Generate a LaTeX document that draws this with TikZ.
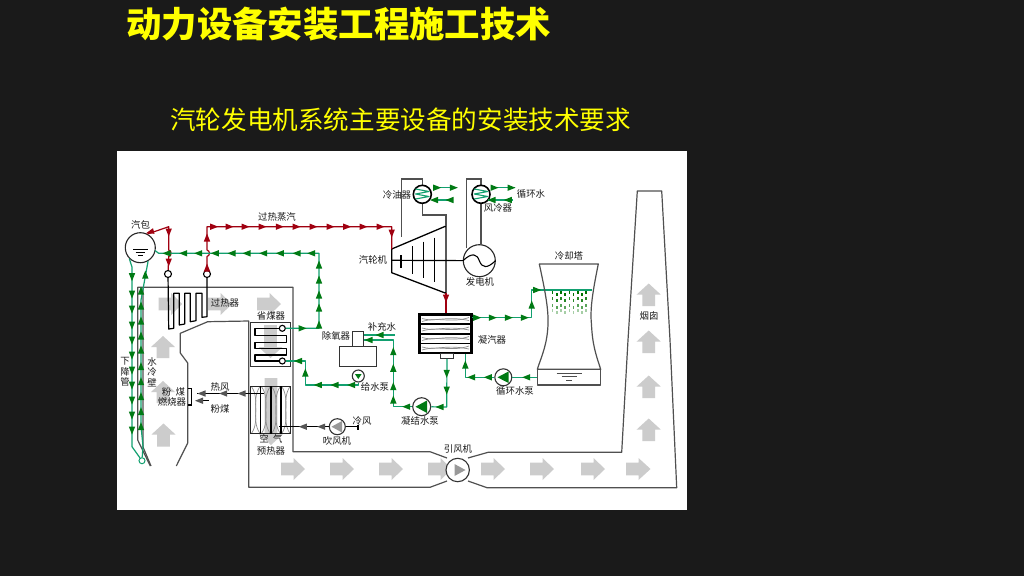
\documentclass[tikz,border=0pt]{standalone}
\usepackage{fontspec}
\newfontfamily\cjk{Noto Sans CJK SC}
\definecolor{bgdark}{HTML}{1A1A1A}
\definecolor{gl}{HTML}{12A070}
\definecolor{gh}{HTML}{007A14}
\definecolor{rl}{HTML}{A00010}
\definecolor{kh}{HTML}{555555}
\definecolor{pipe}{HTML}{505050}
\definecolor{grayarrow}{HTML}{CCCCCC}
\definecolor{title}{HTML}{FFFF00}
\tikzset{
  gline/.style={draw=gl,line width=1.2pt,line join=round},
  rline/.style={draw=rl,line width=1.2pt,line join=round},
  kline/.style={draw=black,line width=1.1pt},
  wall/.style={draw=pipe,line width=1.2pt,line join=round},
  pipeline/.style={draw=pipe,line width=1.1pt},
  steel/.style={draw=black,line width=1.2pt,line join=round},
  valve/.style={circle,draw=black,line width=1.1pt,fill=white,minimum size=7pt,inner sep=0pt},
  pump/.style={circle,draw=black!80,line width=1.1pt,fill=white,inner sep=0pt},
  cooler/.style={circle,draw=black,line width=1.6pt,fill=white,minimum size=18pt,inner sep=0pt},
  lbl/.style={font=\cjk\fontsize{9.4}{10.5}\selectfont,text=black!90,inner sep=0pt,align=center},
  gshape/.style={fill=grayarrow,draw=none},
  wave/.style={draw=black!45,line width=.7pt}
}
\newcommand{\arrR}[3]{\fill[gshape] (#1,#3-6.3) -- (#1+12.5,#3-6.3) -- (#1+12.5,#3-11) -- (#2,#3) -- (#1+12.5,#3+11) -- (#1+12.5,#3+6.3) -- (#1,#3+6.3) -- cycle;}
\newcommand{\arrU}[3]{\fill[gshape] (#1-6.3,#3) -- (#1-6.3,#2+11) -- (#1-12,#2+11) -- (#1,#2) -- (#1+12,#2+11) -- (#1+6.3,#2+11) -- (#1+6.3,#3) -- cycle;}
\newcommand{\arrD}[3]{\fill[gshape] (#1-6.3,#2) -- (#1-6.3,#3-11) -- (#1-12,#3-11) -- (#1,#3) -- (#1+12,#3-11) -- (#1+6.3,#3-11) -- (#1+6.3,#2) -- cycle;}
\newcommand{\mkL}[3]{\fill[#1] (#2-4.5,#3) -- (#2+3.5,#3-3.2) -- (#2+3.5,#3+3.2) -- cycle;}
\newcommand{\mkR}[3]{\fill[#1] (#2+4.5,#3) -- (#2-3.5,#3-3.2) -- (#2-3.5,#3+3.2) -- cycle;}
\newcommand{\mkU}[3]{\fill[#1] (#2,#3-4.5) -- (#2-3.2,#3+3.5) -- (#2+3.2,#3+3.5) -- cycle;}
\newcommand{\mkD}[3]{\fill[#1] (#2,#3+4.5) -- (#2-3.2,#3-3.5) -- (#2+3.2,#3-3.5) -- cycle;}
\newcommand{\cellwave}[2]{%
  \draw[wave] (#1+1,387) .. controls (#2,400) and (#1,420) .. (#2-1,433);
  \draw[wave] (#2-1,387) .. controls (#1,400) and (#2,420) .. (#1+1,433);}
\newcommand{\barwave}[1]{%
  \draw[wave] (422,#1-1) .. controls (435,#1+3) and (445,#1-4) .. (469,#1+1);
  \draw[wave] (422,#1+2) .. controls (438,#1-3) and (452,#1+4) .. (469,#1-2);}
\begin{document}
\begin{tikzpicture}[x=1pt,y=-1pt]
\useasboundingbox (0,0) rectangle (1024,576);
\fill[bgdark] (0,0) rectangle (1024,576);
\fill[white] (117,151) rectangle (687,510);
\node[font=\cjk\bfseries\fontsize{35.4}{38}\selectfont,text=title,inner sep=0pt,anchor=west] (heading) at (126,24) {动力设备安装工程施工技术};
\node[font=\cjk\fontsize{25.6}{28}\selectfont,text=title,inner sep=0pt,anchor=west] (subheading) at (170,120) {汽轮发电机系统主要设备的安装技术要求};
% grey gas-flow arrows
\arrR{158.7}{182}{304}\arrR{208}{232}{304}\arrR{257}{281}{304}
\arrU{163}{336}{358}\arrU{163}{381}{403}\arrU{163.5}{423.5}{446.5}
\arrD{270.5}{325}{358}\arrD{271}{378}{445}
\arrR{281}{305}{469}\arrR{330}{354}{469}\arrR{379}{403}{469}\arrR{428}{452}{469}
\arrR{481}{505}{469}\arrR{530}{554}{469}\arrR{581}{605}{469}\arrR{626}{650.5}{469}
\arrU{648.7}{283.5}{306}\arrU{648.7}{330.5}{353}\arrU{648.7}{375.5}{398}\arrU{648.7}{418.5}{441}
% boiler and flue walls
\draw[wall] (150.3,466) -- (137.7,440) -- (137.7,287.3) -- (293,287.3) -- (293,451.7) -- (430,451.7) -- (447,458) (468,458) -- (488,452.3) -- (621.7,452.3) -- (628,340) -- (637.3,191) -- (661.7,191) -- (670,340) -- (676.7,487.7) -- (487,487.7) -- (468,481) (447,481) -- (430,487.3) -- (248.7,487.3) -- (248.7,321) -- (207.7,321.7) -- (180.3,333.3) -- (180.3,353) -- (187.7,363) -- (187.7,443) -- (176.3,466);
\draw[wall] (151,466) -- (143,447) -- (143,287.3);
% economizer
\node[draw=black!80,line width=1.3pt,minimum width=40pt,minimum height=44.4pt,inner sep=0pt] (economizer) at (270.7,344.5) {};
\node[valve,minimum size=6pt] (ecoin) at (282.3,361) {};
\node[valve,minimum size=6pt] (ecoout) at (282.3,328.3) {};
\draw[steel] (ecoout) -- (255,328.3) -- (255,335.7) -- (286.7,335.7) -- (286.7,342.3) -- (255,342.3) -- (255,348.3) -- (286.7,348.3) -- (286.7,355) -- (255,355) -- (255,361) -- (ecoin);
% air preheater
\cellwave{250.7}{260.7}\cellwave{260.7}{271}\cellwave{271}{281}\cellwave{281}{290.7}
\node[draw=black!85,line width=1.2pt,minimum width=40pt,minimum height=47.3pt,inner sep=0pt] (preheater) at (270.7,410) {};
\foreach \x in {260.7,271,281}{\draw[black,line width=1.4pt] (\x,386.3) -- (\x,433.5);}
% superheater
\node[valve] (shin) at (168,274) {};
\node[valve] (shout) at (207,274) {};
\draw[steel] (shin) -- (168.7,329) -- (173.7,328.3) -- (173.7,293.3) -- (179.3,293.3) -- (179.3,325) -- (184.7,324) -- (184.7,293.3) -- (190.3,293.3) -- (190.3,321.7) -- (196,320.7) -- (196,293.3) -- (202,293.3) -- (202,317.3) -- (207,316.7) -- (shout);
% steam drum
\node[circle,draw=black!85,line width=1.1pt,fill=white,minimum size=30pt,inner sep=0pt] (drum) at (140.3,247.7) {};
\draw[black,line width=1pt] (133,249) -- (147.5,249) (135.5,252) -- (145,252) (138,255) -- (142.5,255);
% burner
\coordinate (bt) at (187.7,388.3);\coordinate (bb) at (187.7,405);
\draw[kline] (bt) -- (191.7,388.3) -- (191.7,405) -- (bb);
\coordinate (hotsrc) at (263.7,393.5);\coordinate (hotdst) at (197,393.5);
\draw[kline] (hotsrc) -- (hotdst);
\foreach \x in {202,223.7,242}{\mkL{kh}{\x}{393.5}}
\coordinate (coalsrc) at (208.7,400.7);\coordinate (coaldst) at (197,400.7);
\draw[kline] (coalsrc) -- (coaldst);
\mkL{kh}{199.5}{400.7}
% blower
\node[pump,minimum size=16pt] (blower) at (337.3,426.7) {};
\fill[black!40] (331.5,426.7) -- (342,421) -- (342,432.5) -- cycle;
\coordinate (airout) at (278.7,426.7);
\draw[kline] (blower) -- (airout);
\foreach \x in {303.3,321.7}{\mkL{kh}{\x}{426.7}}
\coordinate (coldin) at (358,426.7);
\draw[kline] (coldin) -- (blower);
\draw[kline] (358,424.5) -- (358,429.5);
% induced-draft fan
\node[pump,minimum size=23.4pt] (idfan) at (457.7,470) {};
\fill[black!40] (465.5,470) -- (454.5,464) -- (454.5,476) -- cycle;
% turbine
\coordinate (tA) at (391.7,249);\coordinate (tB) at (446,226);\coordinate (tC) at (446,293.3);\coordinate (tD) at (391.7,272.7);
\draw[black,line width=1.3pt,line join=round] (tA) -- (tB) -- (tC) -- (tD) -- cycle;
\draw[black,line width=1.1pt] (401,255) -- (401,268) (412.3,246) -- (412.3,274) (423.7,241.7) -- (423.7,278.3) (434.7,237.7) -- (434.7,282.3);
\node[circle,draw=black!85,line width=1.1pt,fill=white,minimum size=32pt,inner sep=0pt] (generator) at (479.3,260.7) {};
\draw[black,line width=1.2pt] (391.7,260.3) -- (generator);
\draw[black,line width=1.1pt] (463,260.7) .. controls (472,252) and (477,254) .. (479.3,260.7) .. controls (482,268) and (487,269) .. (495.5,260.7);
% coolers and their pipes
\coordinate (p1) at (401.7,236.7);\coordinate (p2) at (401.7,179);\coordinate (p3) at (422.3,179);\coordinate (p4) at (422.3,215);\coordinate (p5) at (446,215);
\draw[pipeline] (p1) -- (p2) -- (p3) -- (422.3,186);
\draw[pipeline] (p4) -- (p5) -- (tB);
\draw[pipeline] (422.3,203) -- (p4);
\coordinate (q1) at (466.7,248);\coordinate (q2) at (466.7,179);\coordinate (q3) at (481,179);
\draw[pipeline] (q1) -- (q2) -- (q3) -- (481,186);
\draw[pipeline] (481,203) -- (481,245);
\node[cooler] (oilcool) at (422.3,194.3) {};
\node[cooler] (aircool) at (481,194.3) {};
\draw[gl,line width=1.1pt,line join=round] (415.5,189) -- (429,191.5) -- (415.5,194) -- (429,196.5) -- (415.5,199)
  (474.2,189) -- (487.7,191.5) -- (474.2,194) -- (487.7,196.5) -- (474.2,199);
\coordinate (o1) at (433,187.7);\coordinate (o2) at (457,187.7);\coordinate (o3) at (453,200);\coordinate (o4) at (431.7,200);
\draw[gline] (o1) -- (o2);
\draw[gline] (o3) -- (o4);
\foreach \x in {436.7,453.3}{\mkR{gh}{\x}{187.7}}
\foreach \x in {434.5,450}{\mkL{gh}{\x}{200}}
\coordinate (w1) at (491.7,187.7);\coordinate (w2) at (515,187.7);\coordinate (w3) at (513,200);\coordinate (w4) at (488,200);
\draw[gline] (w1) -- (w2);
\draw[gline] (w3) -- (w4);
\foreach \x in {494,511}{\mkR{gh}{\x}{187.7}}
\foreach \x in {492,508.3}{\mkL{gh}{\x}{200}}
% condenser
\barwave{319.5}\barwave{329}\barwave{338.5}\barwave{348}
\node[draw=black,line width=2.2pt,minimum width=52pt,minimum height=38.4pt,inner sep=0pt] (condenser) at (445.4,333.7) {};
\foreach \y in {324,333.7,343.3}{\draw[black,line width=1.6pt] (420,\y) -- (471,\y);}
\node[draw=black!80,line width=1.1pt,minimum width=12.6pt,minimum height=5pt,inner sep=0pt,fill=white] (hotwell) at (447,355.8) {};
% deaerator
\node[draw=black!80,line width=1.3pt,minimum width=37.4pt,minimum height=20pt,inner sep=0pt] (tank) at (358,356.7) {};
\node[draw=black!80,line width=1.3pt,minimum width=10.6pt,minimum height=15pt,inner sep=0pt] (dome) at (358,339.2) {};
\node[pump,minimum size=12pt] (feedpump) at (358.3,376) {};
\fill[gh] (358.3,379) -- (355,374) -- (361.6,374) -- cycle;
\node[pump,minimum size=18pt] (condpump) at (421.7,406.7) {};
\fill[gh] (415.5,406.7) -- (427,400.5) -- (427,413) -- cycle;
\node[pump,minimum size=17pt] (circpump) at (503.3,377.3) {};
\fill[gh] (497.5,377.3) -- (508.5,371.5) -- (508.5,383) -- cycle;
% red steam lines
\coordinate (r1) at (168.7,226.7);\coordinate (r2) at (168.7,250);\coordinate (r3) at (168.7,256.5);
\draw[rline] (drum.62) -- (r1) -- (r2) .. controls (172,251) and (172,255.5) .. (r3) -- (shin);
\fill[rl] (146,233.3) -- (153,228.2) -- (154.5,233.8) -- cycle;
\mkD{rl}{168.7}{232}\mkD{rl}{168.7}{262}
\coordinate (s1) at (207,226.7);\coordinate (s2) at (391.7,226.7);\coordinate (s3) at (207,250);\coordinate (s4) at (207,256.5);
\draw[rline] (shout) -- (s4) .. controls (210.3,255.5) and (210.3,251) .. (s3) -- (s1) -- (s2) -- (tA);
\mkU{rl}{207}{268}\mkU{rl}{207}{238}
\foreach \x in {213.7,229,245,262,279.3,296,313,330,346.7,363,380}{\mkR{rl}{\x}{226.7}}
\mkD{rl}{391.7}{233}
\coordinate (exh) at (446,293.3);
\draw[rline] (exh) -- (condenser.north -| exh);
\mkD{rl}{446}{298}
% green water lines
\coordinate (e1) at (319,328.3);\coordinate (e2) at (319,253.3);\coordinate (e3) at (158.7,253.3);\coordinate (e4) at (155,250.5);
\draw[gline] (ecoout) -- (e1) -- (e2) -- (e3) -- (e4);
\mkR{gh}{302}{328.3}
\foreach \y in {325,308,295,280,265}{\mkU{gh}{319}{\y}}
\foreach \x in {311.7,297,280.3,263.7,247,232,215.3,198.7,183.7,167}{\mkL{gh}{\x}{253.3}}
\coordinate (f1) at (358.3,385);\coordinate (f2) at (305.3,385);\coordinate (f3) at (305.3,361);
\draw[gline] (feedpump) -- (f1) -- (f2) -- (f3) -- (ecoin);
\foreach \x in {351.7,335,318.3}{\mkL{gh}{\x}{385}}
\mkU{gh}{305.3}{373}
\mkL{gh}{298.5}{361}
\coordinate (d1) at (132,267);\coordinate (d2) at (132,446.7);
\node[circle,draw=gl,line width=1pt,fill=white,minimum size=6pt,inner sep=0pt] (header) at (142,460.7) {};
\draw[gline] (drum.225) -- (d1) -- (d2) -- (header);
\foreach \y in {276.7,294,309,325,340,355,370,385,400,415,430}{\mkD{gh}{132}{\y}}
\coordinate (u1) at (143,446);\coordinate (u2) at (141,426);\coordinate (u3) at (141,300);
\draw[gline] (header) -- (u1) -- (u2) -- (u3) -- (drum.300);
\foreach \y in {291,306,321,336,350,366.7,381.7,396.7,411.7,426.7}{\mkU{gh}{141}{\y}}
\mkU{gh}{145.3}{275}
\coordinate (c1) at (446.7,407);
\draw[gline] (hotwell) -- (c1) -- (condpump);
\foreach \y in {373.3,390}{\mkD{gh}{446.7}{\y}}
\mkL{gh}{440}{407}
\coordinate (c2) at (393.3,406.7);\coordinate (c3) at (393.3,340);\coordinate (c4) at (dome.east |- c3);
\draw[gline] (condpump) -- (c2) -- (c3) -- (c4);
\mkL{gh}{406.7}{406.7}
\foreach \y in {400,386.7,368.3,351.7}{\mkU{gh}{393.3}{\y}}
\mkL{gh}{369}{340}
\coordinate (mk1) at (395,335);\coordinate (mk2) at (dome.east |- mk1);
\draw[gline] (mk1) -- (mk2);
\mkL{gh}{380}{335}
\coordinate (g1) at (537.3,377.3);\coordinate (g2) at (465.3,377.3);\coordinate (g3) at (465.3,353.6);
\draw[gline] (g1) -- (circpump);
\draw[gline] (circpump) -- (g2) -- (g3);
\foreach \x in {526.7,488.3,471.7}{\mkL{gh}{\x}{377.3}}
\mkU{gh}{465.3}{365}
\coordinate (t1) at (471.7,317.7);\coordinate (t2) at (531.7,317.7);\coordinate (t3) at (531.7,290);\coordinate (t4) at (591.7,290);
\draw[gline] (t1) -- (t2) -- (t3) -- (t4);
\foreach \x in {476.7,492.3,508.3,524.3}{\mkR{gh}{\x}{317.7}}
\mkU{gh}{531.7}{305}
\mkR{gh}{536.7}{290}
% cooling tower
\coordinate (tw1) at (539.3,264);\coordinate (tw2) at (598.3,264);\coordinate (tw3) at (600.7,369.3);\coordinate (tw4) at (537.3,369.3);
\draw[wall] (tw1) -- (tw2) .. controls (592,295) and (590,310) .. (591.5,325) .. controls (592.5,345) and (596,355) .. (tw3) -- (tw4) .. controls (542,355) and (547,345) .. (548,325) .. controls (548.5,310) and (546,295) .. (tw1) -- cycle;
\draw[wall] (tw4) -- (537.3,385) -- (600.7,385) -- (tw3);
\draw[black!70,line width=1pt] (556.7,373.3) -- (581.7,373.3) (561.7,376.7) -- (576.7,376.7) (566,380) -- (572.3,380);
\foreach \x/\s in {552.7/0,557/2,561/0,565/2,569.5/0,573.5/2,578/0,582/2,586/0}{
  \foreach \y/\o in {293/100,299/85,305.5/65,311/35}{\fill[green!45!black,opacity=\o/100] (\x-.6,\y+\s-1.8) rectangle (\x+.6,\y+\s+1.4);}}
% labels
\node[lbl] (l1) at (140.5,224.5) {汽包};
\node[lbl] (l2) at (277,217) {过热蒸汽};
\node[lbl] (l3) at (397,194.5) {冷油器};
\node[lbl] (l4) at (498,207.5) {风冷器};
\node[lbl] (l5) at (531,194) {循环水};
\node[lbl] (l6) at (373,260) {汽轮机};
\node[lbl] (l7) at (480,282) {发电机};
\node[lbl] (l8) at (569,256) {冷却塔};
\node[lbl] (l9) at (492,340) {凝汽器};
\node[lbl] (l10) at (336,336) {除氧器};
\node[lbl] (l11) at (382,327) {补充水};
\node[lbl] (l12) at (375,387) {给水泵};
\node[lbl] (l13) at (420,421) {凝结水泵};
\node[lbl] (l14) at (515,391) {循环水泵};
\node[lbl] (l15) at (458,449) {引风机};
\node[lbl] (l16) at (649,316) {烟囱};
\node[lbl] (l17) at (225,303) {过热器};
\node[lbl] (l18) at (271,315.5) {省煤器};
\node[lbl] (l19) at (125,372) {下\\降\\管};
\node[lbl] (l20) at (152,372) {水\\冷\\壁};
\node[lbl] (l21) at (173.5,392) {粉\ \ 煤};
\node[lbl] (l22) at (172,402) {燃烧器};
\node[lbl] (l23) at (220,387) {热风};
\node[lbl] (l24) at (220,408.5) {粉煤};
\node[lbl] (l25) at (362,420.5) {冷风};
\node[lbl] (l26) at (337,441) {吹风机};
\node[lbl] (l27) at (271,439) {空\ \ 气};
\node[lbl] (l28) at (271,450.5) {预热器};
\end{tikzpicture}
\end{document}
